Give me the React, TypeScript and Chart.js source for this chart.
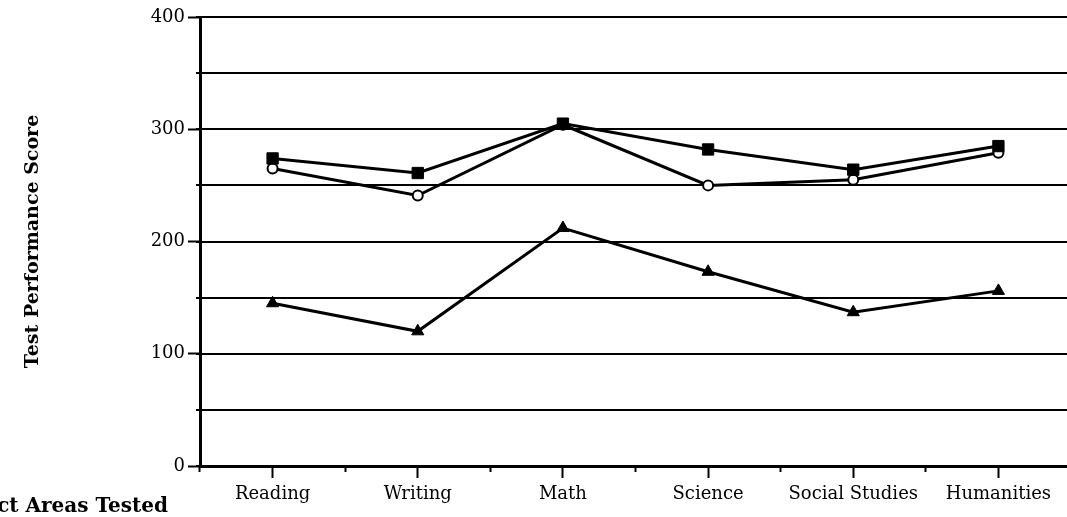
import React, { useEffect, useRef } from "react";
import { Chart, registerables } from "chart.js";

Chart.register(...registerables);

const categories = ["Reading", "Writing", "Math", "Science", "Social Studies", "Humanities"];
const squareSeries = [274, 261, 305, 282, 264, 285];
const circleSeries = [265, 241, 304, 250, 255, 279];
const triangleSeries = [145, 120, 212, 173, 137, 156];
const yTickValues = [0, 100, 200, 300, 400];

const serif = '"DejaVu Serif", serif';

const xTitlePlugin = {
  id: "xTitleLeft",
  afterDraw(chart: any) {
    const { ctx, chartArea } = chart;
    ctx.save();
    ctx.font = `bold 20px ${serif}`;
    ctx.fillStyle = "#000";
    ctx.textAlign = "right";
    ctx.textBaseline = "alphabetic";
    ctx.fillText("Subject Areas Tested", chartArea.left - 32, chart.height - 5);
    ctx.restore();
  },
};

export default function App() {
  const ref = useRef<HTMLCanvasElement | null>(null);
  useEffect(() => {
    if (!ref.current) return;
    const chart = new Chart(ref.current, {
      type: "line",
      data: {
        labels: categories,
        datasets: [
          {
            label: "Series A",
            data: squareSeries,
            borderColor: "#000",
            backgroundColor: "#000",
            borderWidth: 3,
            pointStyle: "rect",
            pointRadius: 8,
            pointBorderWidth: 1,
            pointBackgroundColor: "#000",
          },
          {
            label: "Series B",
            data: circleSeries,
            borderColor: "#000",
            backgroundColor: "#fff",
            borderWidth: 3,
            pointStyle: "circle",
            pointRadius: 5,
            pointBorderWidth: 2,
            pointBackgroundColor: "#fff",
          },
          {
            label: "Series C",
            data: triangleSeries,
            borderColor: "#000",
            backgroundColor: "#000",
            borderWidth: 3,
            pointStyle: "triangle",
            pointRadius: 7,
            pointBorderWidth: 1,
            pointBackgroundColor: "#000",
          },
        ],
      },
      options: {
        responsive: false,
        animation: false,
        layout: { padding: { top: 17, right: 7, bottom: 0, left: 0 } },
        plugins: { legend: { display: false }, tooltip: { enabled: false } },
        scales: {
          x: {
            type: "category",
            position: "bottom",
            weight: 1,
            offset: true,
            grid: {
              offset: false,
              drawOnChartArea: false,
              drawTicks: true,
              tickLength: 12,
              tickWidth: 2,
              tickColor: "#000",
            },
            border: { display: true, color: "#000", width: 3 },
            ticks: {
              color: "#000",
              padding: 6,
              maxRotation: 0,
              autoSkip: false,
              font: { family: serif, size: 18 },
            },
            afterFit: (s: any) => {
              s.height = 51;
            },
          },
          x2: {
            type: "category",
            position: "bottom",
            weight: 0,
            offset: true,
            grid: {
              offset: true,
              drawOnChartArea: false,
              drawTicks: true,
              tickLength: 6,
              tickWidth: 2,
              tickColor: "#000",
            },
            border: { display: false },
            ticks: { display: false },
            afterFit: (s: any) => {
              s.height = 0;
            },
          },
          y: {
            type: "linear",
            position: "left",
            weight: 1,
            min: 0,
            max: 400,
            afterBuildTicks: (s: any) => {
              s.ticks = yTickValues.map((v) => ({ value: v }));
            },
            grid: {
              drawOnChartArea: false,
              drawTicks: true,
              tickLength: 12,
              tickWidth: 2,
              tickColor: "#000",
            },
            border: { display: true, color: "#000", width: 3 },
            ticks: {
              color: "#000",
              padding: 3,
              font: { family: serif, size: 18 },
            },
            title: {
              display: true,
              text: "Test Performance Score",
              color: "#000",
              font: { family: serif, size: 19, weight: "bold", lineHeight: 1.2 },
              padding: { top: 22, bottom: 0 },
            },
            afterFit: (s: any) => {
              s.width = 200;
            },
          },
          y2: {
            type: "linear",
            position: "left",
            weight: 0,
            min: 0,
            max: 400,
            ticks: { display: false, stepSize: 50 },
            grid: {
              drawOnChartArea: true,
              color: "#000",
              lineWidth: 2,
              drawTicks: true,
              tickLength: 4,
              tickWidth: 2,
              tickColor: "#000",
            },
            border: { display: false },
            afterFit: (s: any) => {
              s.width = 0;
            },
          },
        },
      },
      plugins: [xTitlePlugin],
    });
    return () => chart.destroy();
  }, []);

  return (
    <div
      style={{
        position: "fixed",
        left: 0,
        top: 0,
        width: 1067,
        height: 517,
        overflow: "hidden",
        background: "#fff",
      }}
    >
      <canvas ref={ref} width={1080} height={517} style={{ display: "block" }} />
    </div>
  );
}
